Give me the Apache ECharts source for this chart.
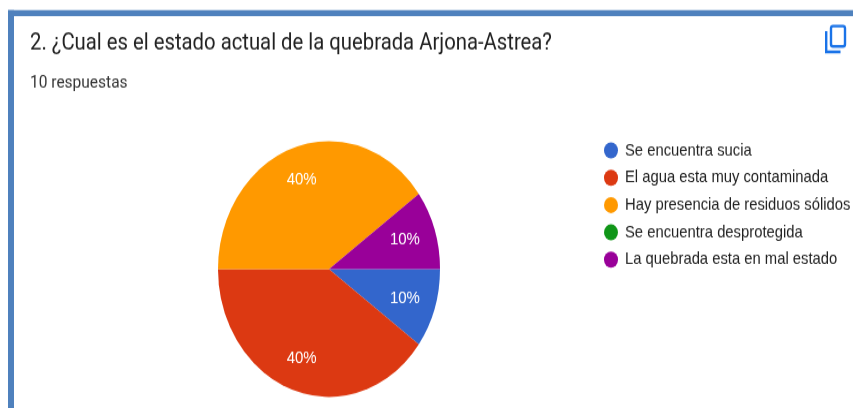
<!DOCTYPE html>
<html>
<head>
<meta charset="utf-8">
<style>
html,body{margin:0;padding:0;background:#fff;overflow:hidden;width:853px;height:408px}
#chart{width:853px;height:354px;transform:scaleY(1.1525);transform-origin:0 0}
</style>
<script src="https://cdn.jsdelivr.net/npm/echarts@6/dist/echarts.min.js"></script>
</head>
<body>
<div id="chart"></div>
<script>
const titleText = '2. ¿Cual es el estado actual de la quebrada Arjona-Astrea?';
const subtitleText = '10 respuestas';
const categories = ['Se encuentra sucia','El agua esta muy contaminada','Hay presencia de residuos sólidos','Se encuentra desprotegida','La quebrada esta en mal estado'];
const values = [1,4,4,0,1];
const colors = ['#3366cc','#dc3912','#ff9900','#109618','#990099'];

const chart = echarts.init(document.getElementById('chart'), null, {renderer:'canvas'});
const cx = 329, cy = 233.4, R = 111, labelFrac = 0.70;
chart.setOption({
  animation:false,
  color:colors,
  title:[
    {text:titleText,left:30,top:28,padding:0,textStyle:{fontFamily:'Roboto',fontSize:20.3,fontWeight:400,color:'#212121'}},
    {text:subtitleText,left:30,top:64,padding:0,textStyle:{fontFamily:'Roboto',fontSize:15.5,fontWeight:400,color:'#333333'}}
  ],
  legend:{
    orient:'vertical',left:604,top:123,padding:0,
    icon:'circle',itemWidth:14,itemHeight:14,itemGap:8.7,
    textStyle:{fontFamily:'Liberation Sans',fontSize:14.8,color:'#222222',padding:[0,0,0,2]},
    data:categories
  },
  series:[{
    type:'pie',
    center:[cx,cy],radius:[0,R],startAngle:0,clockwise:true,
    minShowLabelAngle:1,
    stillShowZeroSum:false,
    silent:true,
    label:{show:true,position:'inside',formatter:'{d}%',color:'#ffffff',fontFamily:'Liberation Sans',fontSize:15},
    labelLine:{show:false},
    labelLayout:function(p){
      const lx = p.labelRect.x + p.labelRect.width/2, ly = p.labelRect.y + p.labelRect.height/2;
      const k = labelFrac/0.5 - 1;
      return {dx:(lx-cx)*k - 2, dy:(ly-cy)*k};
    },
    itemStyle:{borderWidth:0},
    data:categories.map((n,i)=>({name:n,value:values[i]}))
  }],
  graphic:[
    {type:'rect',shape:{x:8,y:8.7,width:845,height:5.2},style:{fill:'#4f81bd'}},
    {type:'rect',shape:{x:8,y:8.7,width:6,height:346},style:{fill:'#4f81bd'}},
    {type:'rect',shape:{x:831,y:22.6,width:14,height:17.6,r:2},style:{fill:'none',stroke:'#1a73e8',lineWidth:2.4}},
    {type:'polyline',shape:{points:[[826.2,27],[826.2,45],[840.5,45]]},style:{fill:'none',stroke:'#1a73e8',lineWidth:2.4}}
  ]
});
</script>
</body>
</html>
